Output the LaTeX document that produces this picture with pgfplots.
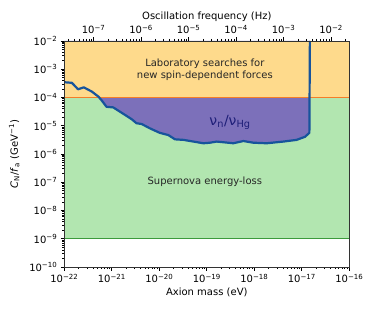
\documentclass[border=0pt]{standalone}
\usepackage{fontspec}
\setmainfont{DejaVu Sans}
\usepackage{pgfplots}
\pgfplotsset{compat=1.18}
\definecolor{labfill}{RGB}{254,218,140}
\definecolor{snfill}{RGB}{178,230,176}
\definecolor{nnfill}{RGB}{124,112,186}
\definecolor{curveblue}{RGB}{23,84,156}
\definecolor{labline}{RGB}{245,125,40}
\definecolor{snline}{RGB}{60,155,60}
\definecolor{nntext}{RGB}{30,30,120}
\begin{document}
\begin{tikzpicture}
\useasboundingbox (-64.3pt,-45pt) rectangle (309.7pt,267pt);
\begin{axis}[
  scale only axis, width=285pt, height=226pt,
  xmode=log, ymode=log,
  xmin=1e-22, xmax=1e-16, ymin=1e-10, ymax=1e-2,
  enlargelimits=false,
  axis on top,
  tick pos=left,
  tick align=outside,
  major tick length=3.5pt, minor tick length=2pt,
  every tick/.style={black, line width=0.6pt},
  axis line style={black!80, line width=0.8pt},
  font=\fontsize{10}{12}\selectfont,
  xtick={1e-22,1e-21,1e-20,1e-19,1e-18,1e-17,1e-16},
  xticklabels={10\textsuperscript{−22},10\textsuperscript{−21},10\textsuperscript{−20},10\textsuperscript{−19},10\textsuperscript{−18},10\textsuperscript{−17},10\textsuperscript{−16}},
  minor xtick={2e-22,3e-22,4e-22,5e-22,6e-22,7e-22,8e-22,9e-22,
               2e-21,3e-21,4e-21,5e-21,6e-21,7e-21,8e-21,9e-21,
               2e-20,3e-20,4e-20,5e-20,6e-20,7e-20,8e-20,9e-20,
               2e-19,3e-19,4e-19,5e-19,6e-19,7e-19,8e-19,9e-19,
               2e-18,3e-18,4e-18,5e-18,6e-18,7e-18,8e-18,9e-18,
               2e-17,3e-17,4e-17,5e-17,6e-17,7e-17,8e-17,9e-17},
  ytick={1e-10,1e-9,1e-8,1e-7,1e-6,1e-5,1e-4,1e-3,1e-2},
  yticklabels={10\textsuperscript{−10},10\textsuperscript{−9},10\textsuperscript{−8},10\textsuperscript{−7},10\textsuperscript{−6},10\textsuperscript{−5},10\textsuperscript{−4},10\textsuperscript{−3},10\textsuperscript{−2}},
  minor ytick={2e-10,3e-10,4e-10,5e-10,6e-10,7e-10,8e-10,9e-10,
               2e-9,3e-9,4e-9,5e-9,6e-9,7e-9,8e-9,9e-9,
               2e-8,3e-8,4e-8,5e-8,6e-8,7e-8,8e-8,9e-8,
               2e-7,3e-7,4e-7,5e-7,6e-7,7e-7,8e-7,9e-7,
               2e-6,3e-6,4e-6,5e-6,6e-6,7e-6,8e-6,9e-6,
               2e-5,3e-5,4e-5,5e-5,6e-5,7e-5,8e-5,9e-5,
               2e-4,3e-4,4e-4,5e-4,6e-4,7e-4,8e-4,9e-4,
               2e-3,3e-3,4e-3,5e-3,6e-3,7e-3,8e-3,9e-3},
  xlabel={Axion mass (eV)},
  xlabel style={at={([yshift=-25pt]axis description cs:0.5,0)}, anchor=center},
  ylabel={\textit{C}\textsubscript{N}/\textit{f}\textsubscript{a} (GeV\textsuperscript{−1})},
  ylabel style={at={([xshift=-50pt]axis description cs:0,0.5)}, anchor=center, rotate=0},
]
% supernova region
\addplot[fill=snfill, draw=none] coordinates {(1e-22,1e-9) (1e-16,1e-9) (1e-16,1e-4) (1e-22,1e-4)} -- cycle;
% nu_n/nu_Hg excluded region (above curve)
\addplot[fill=nnfill, draw=none] coordinates {
(1e-22,3.47e-4) (1.445e-22,3.31e-4) (1.95e-22,1.95e-4) (2.57e-22,2.29e-4)
(3.80e-22,1.62e-4) (5.25e-22,1.07e-4) (6.17e-22,7.76e-5) (7.76e-22,4.68e-5)
(1.07e-21,4.47e-5) (1.48e-21,3.16e-5) (2.04e-21,2.24e-5) (2.63e-21,1.70e-5)
(3.31e-21,1.23e-5) (4.27e-21,1.15e-5) (6.31e-21,8.13e-6) (1.02e-20,5.62e-6)
(1.55e-20,4.68e-6) (2.14e-20,3.31e-6) (3.24e-20,3.16e-6) (5.25e-20,2.75e-6)
(8.51e-20,2.40e-6) (1.17e-19,2.51e-6) (1.62e-19,2.75e-6) (3.63e-19,2.40e-6)
(5.89e-19,2.88e-6) (9.55e-19,2.51e-6) (1.82e-18,2.40e-6) (4.07e-18,2.75e-6)
(7.76e-18,3.16e-6) (1.17e-17,4.07e-6) (1.445e-17,5.62e-6) (1.48e-17,1e-2)
(1e-22,1e-2)} -- cycle;
% laboratory region
\addplot[fill=labfill, draw=none] coordinates {(1e-22,1e-4) (1e-16,1e-4) (1e-16,1e-2) (1e-22,1e-2)} -- cycle;
\addplot[labline, line width=1.2pt] coordinates {(1e-22,1e-4) (1e-16,1e-4)};
\addplot[snline, line width=1.2pt] coordinates {(1e-22,1e-9) (1e-16,1e-9)};
% curve
\addplot[curveblue, line width=2.2pt, line join=round] coordinates {
(1e-22,3.47e-4) (1.445e-22,3.31e-4) (1.95e-22,1.95e-4) (2.57e-22,2.29e-4)
(3.80e-22,1.62e-4) (5.25e-22,1.07e-4) (6.17e-22,7.76e-5) (7.76e-22,4.68e-5)
(1.07e-21,4.47e-5) (1.48e-21,3.16e-5) (2.04e-21,2.24e-5) (2.63e-21,1.70e-5)
(3.31e-21,1.23e-5) (4.27e-21,1.15e-5) (6.31e-21,8.13e-6) (1.02e-20,5.62e-6)
(1.55e-20,4.68e-6) (2.14e-20,3.31e-6) (3.24e-20,3.16e-6) (5.25e-20,2.75e-6)
(8.51e-20,2.40e-6) (1.17e-19,2.51e-6) (1.62e-19,2.75e-6) (3.63e-19,2.40e-6)
(5.89e-19,2.88e-6) (9.55e-19,2.51e-6) (1.82e-18,2.40e-6) (4.07e-18,2.75e-6)
(7.76e-18,3.16e-6) (1.17e-17,4.07e-6) (1.445e-17,5.62e-6) (1.48e-17,1e-2)};
\node[align=center, text=black!85, font=\fontsize{10}{12}\selectfont] at (axis cs:9.1e-20,1e-3) {Laboratory searches for\\new spin-dependent forces};
\node[text=black!85, font=\fontsize{10}{12}\selectfont] at (axis cs:9.1e-20,1.05e-7) {Supernova energy-loss};
\node[text=nntext, font=\fontsize{14}{16}\selectfont] at (axis cs:3.09e-19,1.3e-5) {ν\textsubscript{n}/ν\textsubscript{Hg}};
\end{axis}
\begin{axis}[
  scale only axis, width=285pt, height=226pt,
  xmode=log, ymode=log,
  xmin=2.418e-8, xmax=2.418e-2, ymin=1e-10, ymax=1e-2,
  enlargelimits=false,
  axis x line*=top,
  hide y axis,
  tick align=outside,
  major tick length=3.5pt, minor tick length=2pt,
  every tick/.style={black, line width=0.6pt},
  axis line style={black!80, line width=0.8pt},
  font=\fontsize{10}{12}\selectfont,
  xtick={1e-7,1e-6,1e-5,1e-4,1e-3,1e-2},
  xticklabels={10\textsuperscript{−7},10\textsuperscript{−6},10\textsuperscript{−5},10\textsuperscript{−4},10\textsuperscript{−3},10\textsuperscript{−2}},
  minor xtick={3e-8,4e-8,5e-8,6e-8,7e-8,8e-8,9e-8,
               2e-7,3e-7,4e-7,5e-7,6e-7,7e-7,8e-7,9e-7,
               2e-6,3e-6,4e-6,5e-6,6e-6,7e-6,8e-6,9e-6,
               2e-5,3e-5,4e-5,5e-5,6e-5,7e-5,8e-5,9e-5,
               2e-4,3e-4,4e-4,5e-4,6e-4,7e-4,8e-4,9e-4,
               2e-3,3e-3,4e-3,5e-3,6e-3,7e-3,8e-3,9e-3,2e-2},
  xlabel={Oscillation frequency (Hz)},
  xlabel style={at={([yshift=24pt]axis description cs:0.5,1)}, anchor=center},
]
\addplot[draw=none] coordinates {(1e-7,1e-5)};
\end{axis}
\end{tikzpicture}
\end{document}
